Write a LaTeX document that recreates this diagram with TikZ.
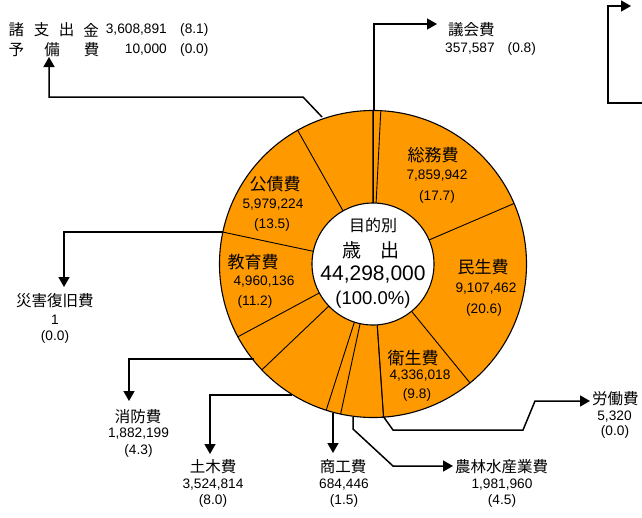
\documentclass[tikz,border=0pt]{standalone}
\usepackage{fontspec}
\setmainfont{Liberation Sans}
\newfontfamily\jp{Noto Sans CJK JP}
\usetikzlibrary{arrows.meta}
\definecolor{ringorange}{HTML}{FF9900}
\begin{document}
\begin{tikzpicture}[x=1pt,y=-1pt,
  leader/.style={line width=1.5pt, line join=miter},
  arr/.style={leader, -{Triangle[length=10pt,width=11pt]}},
  sepline/.style={line width=0.9pt},
  num/.style={inner sep=0pt, font=\fontsize{13.7}{16}\selectfont},
  jin/.style={inner sep=0pt, font=\jp\fontsize{17}{20}\selectfont},
  jout/.style={inner sep=0pt, font=\jp\fontsize{15.5}{18}\selectfont},
]
\useasboundingbox (0,0) rectangle (642,517);
\coordinate (C) at (373,264);
% ring
\fill[ringorange] (C) circle (153.5pt);
\foreach \a in {-90,-87.09,-23.22,50.80,86.03,86.08,102.18,107.75,136.39,151.69,-168,-119.41,-90.08}
  \draw[sepline] ([shift={(C)}]\a:60) -- ([shift={(C)}]\a:153.5);
\draw[line width=1.1pt] (C) circle (153.5pt);
\node[circle, draw, line width=1.1pt, fill=white, minimum size=122pt, inner sep=0pt] (centre) at (C) {};

% centre text
\node[inner sep=0pt, font=\jp\fontsize{16}{18}\selectfont] (c1) at (373,225) {目的別};
\node[inner sep=0pt, font=\jp\fontsize{19}{22}\selectfont] (c2) at (371,250) {歳　出};
\node[inner sep=0pt, font=\fontsize{21}{24}\selectfont] (c3) at (373,275) {44,298,000};
\node[inner sep=0pt, font=\fontsize{18.5}{22}\selectfont] (c4) at (373,300) {(100.0\%)};

% slice labels
\node[jin] (s1) at (433,155) {総務費};
\node[num] (s1a) at (437,176) {7,859,942};
\node[num] (s1b) at (437,197) {(17.7)};
\node[jin] (s2) at (275,184) {公債費};
\node[num] (s2a) at (273,205) {5,979,224};
\node[num] (s2b) at (272,225) {(13.5)};
\node[jin] (s3) at (253,262) {教育費};
\node[num] (s3a) at (264,282) {4,960,136};
\node[num] (s3b) at (255,302) {(11.2)};
\node[jin] (s4) at (483,267) {民生費};
\node[num] (s4a) at (486,289) {9,107,462};
\node[num] (s4b) at (484,310) {(20.6)};
\node[jin] (s5) at (413,358) {衛生費};
\node[num] (s5a) at (420,376) {4,336,018};
\node[num] (s5b) at (417,395) {(9.8)};

% 議会費
\coordinate (g0) at (374,110.5);
\coordinate (g1) at (437,24);
\draw[arr] (g0) |- (g1);
\node[jout, anchor=west] (gt) at (448,30) {議会費};
\node[num, anchor=west] (gn) at (445,49) {357,587\hspace{13pt}(0.8)};

% top right partial
\coordinate (t0) at (643,103);
\coordinate (t1) at (631,6);
\draw[arr] (t0) -- (608,103) |- (t1);

% 諸支出金・予備費
\coordinate (h0) at (322,117);
\coordinate (h1) at (303,97);
\coordinate (h2) at (49,57);
\draw[arr] (h0) -- (h1) -| (h2);
\node[jout] (h3) at (16.5,30) {諸};
\node[jout] (h4) at (41.7,30) {支};
\node[jout] (h5) at (66.5,30) {出};
\node[jout] (h6) at (91,30) {金};
\node[num, anchor=east] (h7) at (167,30) {3,608,891};
\node[num, anchor=west] (h8) at (180,30) {(8.1)};
\node[jout] (h9) at (16.5,50) {予};
\node[jout] (h10) at (52,50) {備};
\node[jout] (h11) at (91.5,50) {費};
\node[num, anchor=east] (h12) at (167,50) {10,000};
\node[num, anchor=west] (h13) at (180,50) {(0.0)};

% 災害復旧費
\coordinate (d0) at (222.5,232);
\coordinate (d1) at (64,287);
\draw[arr] (d0) -| (d1);
\node[jout] (d2) at (55,301) {災害復旧費};
\node[num] (d3) at (55,320) {1};
\node[num] (d4) at (55,337) {(0.0)};

% 消防費
\coordinate (f0) at (254,359);
\coordinate (f1) at (129,401);
\draw[arr] (f0) -| (f1);
\node[jout] (f2) at (138,417) {消防費};
\node[num] (f3) at (138.5,434) {1,882,199};
\node[num] (f4) at (138.5,451) {(4.3)};

% 土木費
\coordinate (b0) at (292,395);
\coordinate (b1) at (210,454);
\draw[arr] (b0) -| (b1);
\node[jout] (b2) at (213,467) {土木費};
\node[num] (b3) at (213,485) {3,524,814};
\node[num] (b4) at (213,501) {(8.0)};

% 商工費
\coordinate (k0) at (333,413);
\coordinate (k1) at (333,453);
\draw[arr] (k0) -- (k1);
\node[jout] (k2) at (343,467) {商工費};
\node[num] (k3) at (344,485) {684,446};
\node[num] (k4) at (344,501) {(1.5)};

% 農林水産業費
\coordinate (n0) at (353,417);
\coordinate (n1) at (453,466);
\draw[arr] (n0) -- (353,429) -- (393,466) -- (n1);
\node[jout, anchor=west] (n2) at (455,467) {農林水産業費};
\node[num] (n3) at (502,485) {1,981,960};
\node[num] (n4) at (502,501) {(4.5)};

% 労働費
\coordinate (r0) at (383,416);
\coordinate (r1) at (590,401);
\draw[arr] (r0) -- (393,430) -- (523,430) -- (535,401) -- (r1);
\node[jout, anchor=west] (r2) at (592,399) {労働費};
\node[num] (r3) at (614.5,417) {5,320};
\node[num] (r4) at (615,432) {(0.0)};
\end{tikzpicture}
\end{document}
